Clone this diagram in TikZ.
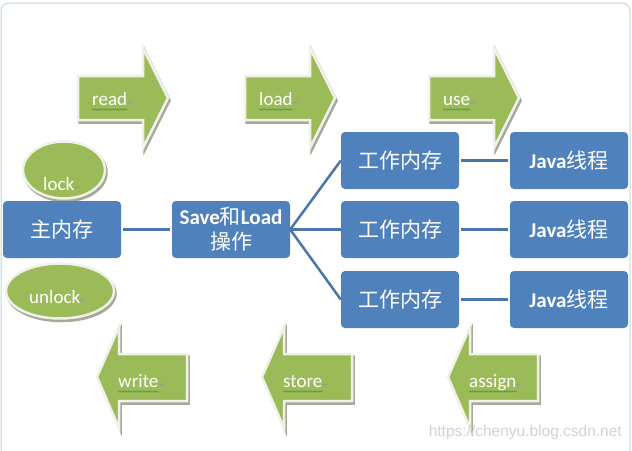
\documentclass[tikz,border=0pt]{standalone}
\usepackage{fontspec}
\setmainfont{Carlito}
\newfontfamily\cjk{Noto Sans CJK SC}
\newfontfamily\symfont{DejaVu Sans}
\newfontfamily\urlfont{Liberation Sans}
\usetikzlibrary{shapes.geometric,decorations.pathmorphing}
\definecolor{boxblue}{RGB}{79,129,189}
\definecolor{linkblue}{RGB}{74,117,170}
\definecolor{leaf}{RGB}{155,187,89}
\definecolor{rim}{RGB}{240,241,234}
\definecolor{shade}{RGB}{168,168,152}
\definecolor{framec}{RGB}{190,215,225}
\definecolor{wavec}{RGB}{70,150,60}
\newcommand{\zh}[1]{{\cjk #1}}
\newcommand{\pmark}{{\symfont\fontsize{8}{8}\selectfont\color{black!40}↵}}

\begin{document}
\begin{tikzpicture}[x=1pt,y=-1pt,
	box/.style={fill=boxblue,rounded corners=4pt,minimum width=118pt,minimum height=57pt,
		inner sep=0pt,text=white,align=center,font=\fontsize{21}{25}\selectfont},
	link/.style={draw=linkblue,line width=2.5pt},
	leafshape/.style={fill=leaf,draw=rim,line width=2.5pt,
		preaction={fill=shade,draw=shade,line width=2.5pt,transform canvas={shift={(1.5pt,-2.5pt)}}}},
	word/.style={inner sep=0pt,text=white,font=\fontsize{19}{19}\selectfont},
	wavy/.style={draw=wavec,line width=0.5pt,decorate,decoration={snake,amplitude=0.7pt,segment length=2.5pt}}]
	\clip (0,0) rectangle (632,450);
	\useasboundingbox (0,0) rectangle (632,450);
	\draw[framec,line width=1pt,rounded corners=8pt] (1,3) rectangle (630,460);
	% read / load / use
	\foreach \x/\n/\t in {78/rd/read,245/ld/load,429/us/use}{
		\draw[leafshape] (\x,76)--(\x+65,76)--(\x+65,48)--(\x+90,98)--(\x+65,148)--(\x+65,120)--(\x,120)--cycle;
		\node[word,anchor=base west] (\n) at (\x+14,105) {\t};
		\node[inner sep=0pt,anchor=base west] (\n m) at (\n.base east) {\pmark};
		\draw[wavy] ([yshift=-4.5pt]\n.base west)--([yshift=-4.5pt]\n.base east);
	}
	% write / store / assign
	\foreach \x/\n/\t in {97/wr/write,262/st/store,448/as/assign}{
		\draw[leafshape] (\x,377)--(\x+22,327)--(\x+22,354)--(\x+90,354)--(\x+90,401)--(\x+22,401)--(\x+22,428)--cycle;
		\node[word,anchor=base west] (\n) at (\x+21,387) {\t};
		\node[inner sep=0pt,anchor=base west] (\n m) at (\n.base east) {\pmark};
		\draw[wavy] ([yshift=-4.5pt]\n.base west)--([yshift=-4.5pt]\n.base east);
	}
	% lock / unlock
	\node[leafshape,ellipse,minimum width=82pt,minimum height=57pt] (lockell) at (64,170) {};
	\node[word,anchor=base west] (lock) at (43,190) {lock\pmark};
	\node[leafshape,ellipse,minimum width=108pt,minimum height=55pt] (unlockell) at (60,291) {};
	\node[word,anchor=base west] (unlock) at (29,303) {unlock\pmark};
	% boxes
	\node[box] (mm) at (62,229.5) {\zh{主内存}};
	\node[box] (sl) at (231,229.5) {\textbf{Save}\zh{和}\textbf{Load}\\\zh{操作}};
	\foreach \i/\y in {1/160.5,2/229.5,3/299.5}{
		\node[box] (w\i) at (400,\y) {\zh{工作内存}};
		\node[box] (j\i) at (569,\y) {\textbf{Java}\zh{线程}};
		\draw[link] (sl.east)--(w\i.west);
		\draw[link,shorten <=2pt,shorten >=2pt] (w\i)--(j\i);
	}
	\draw[link,shorten <=2pt,shorten >=2pt] (mm)--(sl);
	\node[inner sep=0pt,anchor=base east,text=black!18,font=\urlfont\fontsize{15.5}{15.5}\selectfont] (wm) at (622,436) {https://chenyu.blog.csdn.net};
\end{tikzpicture}
\end{document}
